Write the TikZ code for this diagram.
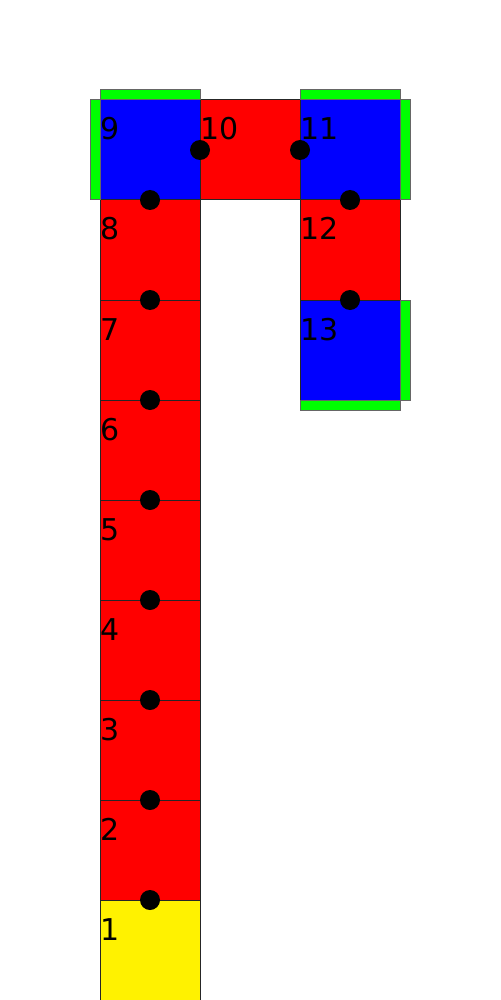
\documentclass[tikz,border=0pt]{standalone}
\usepackage{fontspec}
\setmainfont{DejaVu Sans}
\usetikzlibrary{calc}
\begin{document}
\begin{tikzpicture}[x=0.5pt,y=-0.5pt,
  sq/.style={draw=black!85,line width=0.5pt,minimum size=50pt,inner sep=0pt,outer sep=0pt},
  redsq/.style={sq,fill=red},
  bluesq/.style={sq,fill=blue},
  yellowsq/.style={sq,fill=yellow},
  bar/.style={draw=black!60,fill=green,line width=0.5pt},
  dot/.style={circle,fill=black,minimum size=10pt,inner sep=0pt,outer sep=0pt},
  num/.style={anchor=base west,inner sep=0pt,outer sep=0pt,font=\fontsize{15pt}{18pt}\selectfont}]
\useasboundingbox (0,0) rectangle (500,1000);
% squares
\node[yellowsq] (s1) at (150,950) {};
\node[redsq] (s2) at (150,850) {};
\node[redsq] (s3) at (150,750) {};
\node[redsq] (s4) at (150,650) {};
\node[redsq] (s5) at (150,550) {};
\node[redsq] (s6) at (150,450) {};
\node[redsq] (s7) at (150,350) {};
\node[redsq] (s8) at (150,250) {};
\node[bluesq] (s9) at (150,150) {};
\node[redsq] (s10) at (250,150) {};
\node[bluesq] (s11) at (350,150) {};
\node[redsq] (s12) at (350,250) {};
\node[bluesq] (s13) at (350,350) {};
% green bars
\draw[bar] ($(s9.north west)+(0,-10)$) rectangle (s9.north east);
\draw[bar] ($(s9.north west)+(-10,0)$) rectangle (s9.south west);
\draw[bar] ($(s11.north west)+(0,-10)$) rectangle (s11.north east);
\draw[bar] (s11.north east) rectangle ($(s11.south east)+(10,0)$);
\draw[bar] (s13.north east) rectangle ($(s13.south east)+(10,0)$);
\draw[bar] (s13.south west) rectangle ($(s13.south east)+(0,10)$);
% labels
\foreach \i in {1,...,13}{
  \node[num] (l\i) at ($(s\i.north west)+(0,40)$) {\i};
}
% dots
\node[dot] (d1) at (s1.north) {};
\node[dot] (d2) at (s2.north) {};
\node[dot] (d3) at (s3.north) {};
\node[dot] (d4) at (s4.north) {};
\node[dot] (d5) at (s5.north) {};
\node[dot] (d6) at (s6.north) {};
\node[dot] (d7) at (s7.north) {};
\node[dot] (d8) at (s8.north) {};
\node[dot] (d9) at (s9.east) {};
\node[dot] (d10) at (s10.east) {};
\node[dot] (d11) at (s11.south) {};
\node[dot] (d12) at (s12.south) {};
\end{tikzpicture}
\end{document}
